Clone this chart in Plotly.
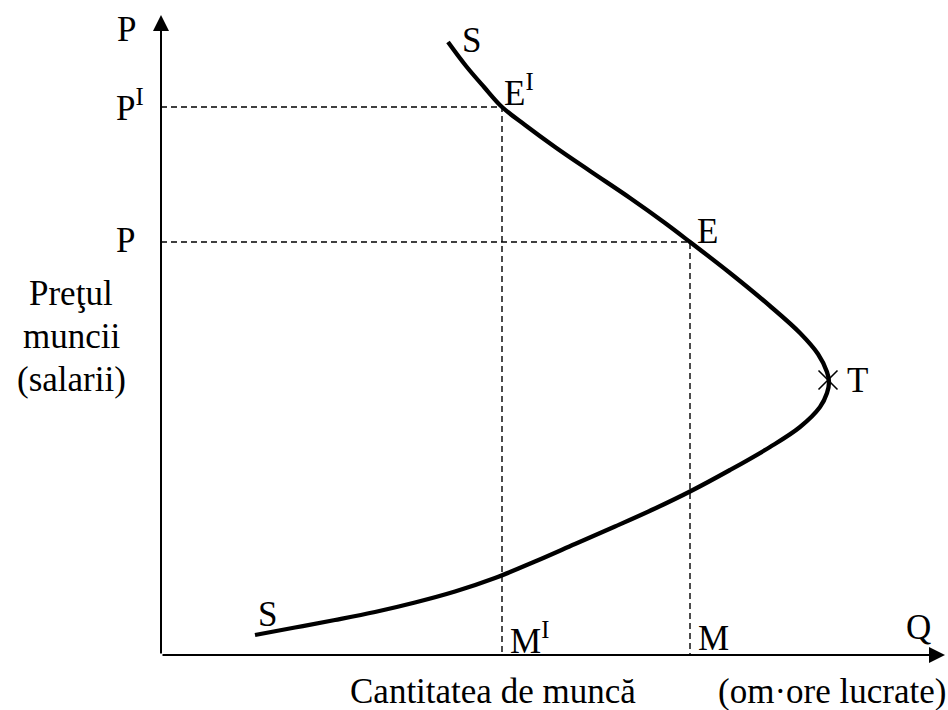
import plotly.graph_objects as go

# Backward-bending labour supply curve S (Q = quantity of labour, P = wage)
supply_q = [287, 305, 323, 341, 364, 394, 429, 469, 504, 529, 569, 609, 639, 657, 666, 668,
            666, 659, 639, 609, 569, 529, 494, 454, 414, 374, 334, 294, 254, 214, 174, 134, 94]
supply_p = [613, 589, 568, 548, 530, 508, 484, 457, 432, 413, 382, 349, 322, 301, 283, 273,
            262, 248, 228, 208, 185, 163.5, 146.5, 128.5, 111, 93.5, 77, 63.5, 52.5, 43, 35, 27.5, 20]

# Equilibrium points E^I and E
eq_q = [341, 529]
eq_p = [548, 413]
price_labels = ["P<sup>I</sup>", "P"]
quantity_labels = ["M<sup>I</sup>", "M"]
eq_labels = ["E<sup>I</sup>", "E"]

# Turning point T
turn_q = [667]
turn_p = [275]

axis_q_max = 784
axis_p_max = 640

FONT = "Liberation Serif"
FS = 35
BLACK = "#000000"

fig = go.Figure()

# dashed guide lines
for q, p in zip(eq_q, eq_p):
    fig.add_trace(go.Scatter(x=[0, q, q], y=[p, p, 0], mode="lines",
                             line=dict(color=BLACK, width=1.4, dash="6px,4px"),
                             hoverinfo="skip", showlegend=False))

# supply curve
fig.add_trace(go.Scatter(x=supply_q, y=supply_p, mode="lines",
                         line=dict(color=BLACK, width=4.3, shape="spline", smoothing=1.0),
                         hoverinfo="skip", showlegend=False))

# turning point marker
fig.add_trace(go.Scatter(x=turn_q, y=turn_p, mode="markers",
                         marker=dict(symbol="x-thin", size=19, line=dict(color=BLACK, width=1.6)),
                         hoverinfo="skip", showlegend=False))

ann = []
# axes with arrows
ann.append(dict(x=axis_q_max, y=0, ax=0, ay=0, xref="x", yref="y", axref="x", ayref="y",
                text="", showarrow=True, arrowhead=2, arrowsize=1.6, arrowwidth=2,
                arrowcolor=BLACK, standoff=0))
ann.append(dict(x=0, y=axis_p_max, ax=0, ay=0, xref="x", yref="y", axref="x", ayref="y",
                text="", showarrow=True, arrowhead=2, arrowsize=1.6, arrowwidth=2,
                arrowcolor=BLACK, standoff=0))

def label(text, x, y, xanchor="center", yanchor="middle", size=FS, xshift=0, yshift=0):
    ann.append(dict(x=x, y=y, xref="x", yref="y", text=text, showarrow=False,
                    xanchor=xanchor, yanchor=yanchor, xshift=xshift, yshift=yshift,
                    font=dict(family=FONT, size=size, color=BLACK)))

# axis titles
label("P", 0, axis_p_max, xanchor="left", xshift=-46, yshift=-14)
label("Q", axis_q_max, 0, xanchor="center", xshift=-27, yshift=28)
# price levels on the vertical axis
for p, t in zip(eq_p, price_labels):
    label(t, 0, p, xanchor="left", xshift=-47, yshift=2)
# quantity levels
for q, t in zip(eq_q, quantity_labels):
    label(t, q, 0, xanchor="left", xshift=6, yshift=17)
# equilibrium points
eq_shifts = [(0, 17), (5, 11)]
for q, p, t, (dx, dy) in zip(eq_q, eq_p, eq_labels, eq_shifts):
    label(t, q, p, xanchor="left", xshift=dx, yshift=dy)
# curve labels
label("S", supply_q[0], supply_p[0], xanchor="left", xshift=12, yshift=2)
label("S", supply_q[-1], supply_p[-1], xanchor="left", xshift=1, yshift=21)
label("T", turn_q[0], turn_p[0], xanchor="left", xshift=17)

# axis descriptions
label("Preţul", 0, 362, xanchor="center", xshift=-90)
label("muncii", 0, 319, xanchor="center", xshift=-90)
label("(salarii)", 0, 276, xanchor="center", xshift=-90)
label("Cantitatea de muncă", 332, 0, yshift=-36)
label("(om·ore lucrate)", 671, 0, yshift=-36)

fig.update_layout(
    width=948, height=710, autosize=False,
    margin=dict(l=0, r=0, t=0, b=0),
    paper_bgcolor="white", plot_bgcolor="white",
    xaxis=dict(range=[-161, 787], visible=False, fixedrange=True),
    yaxis=dict(range=[-55, 655], visible=False, fixedrange=True),
    annotations=ann,
    showlegend=False,
)

fig.write_html("out.html", config={"displayModeBar": False},
               post_script="document.body.style.margin='0';")
